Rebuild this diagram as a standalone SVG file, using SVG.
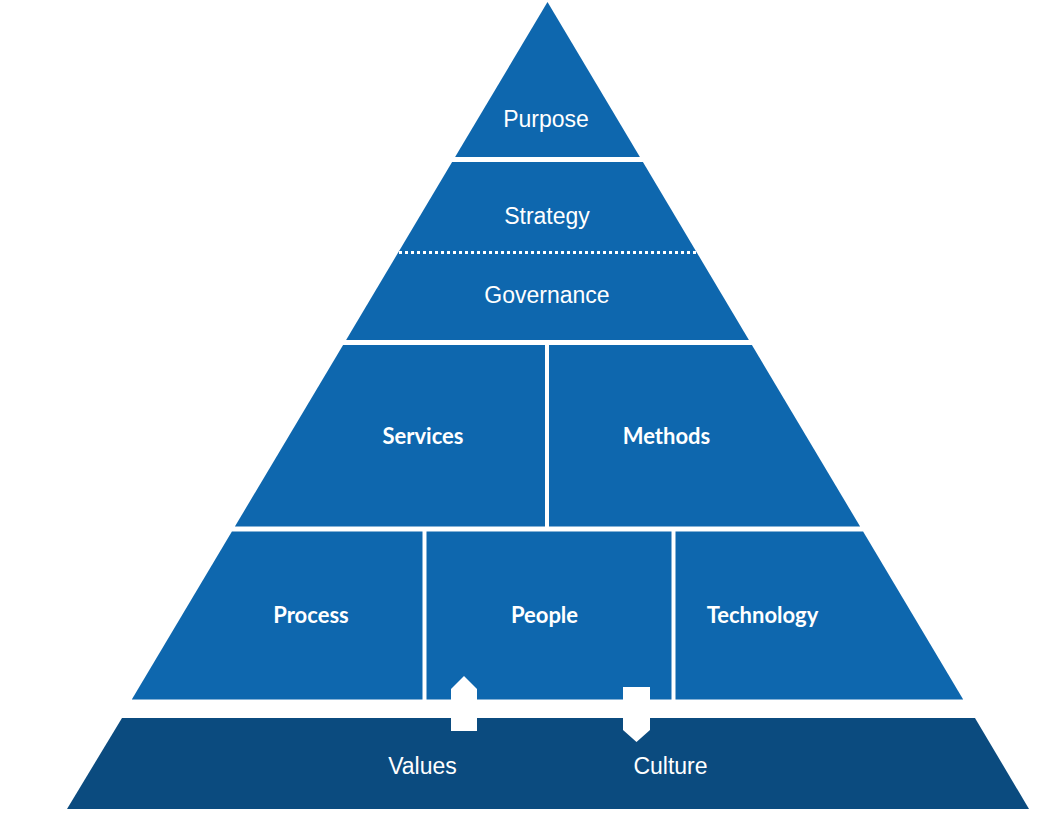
<svg xmlns="http://www.w3.org/2000/svg" width="1061" height="822" viewBox="0 0 1061 822">
<style>
.band{fill:#0e67ae}
.base{fill:#0b4b7f}
.t1{font-family:"Liberation Sans",Arial,sans-serif;font-size:23px;fill:#fff;text-anchor:middle}
.t2{font-family:Lato,"Open Sans",sans-serif;font-weight:bold;font-size:22px;fill:#fff;text-anchor:middle}
.arrow{fill:#fff}
</style>
<rect width="1061" height="822" fill="#fff"/>
<g id="purpose">
<polygon class="band" points="547.5,2 639.9,157 455.1,157"/>
<text class="t1" x="546" y="127">Purpose</text>
</g>
<g id="strategy-governance">
<polygon class="band" points="452.1,162 642.9,162 748.9,340 346.1,340"/>
<line x1="399" y1="252.5" x2="697" y2="252.5" stroke="#fff" stroke-width="3.2" stroke-dasharray="3 3"/>
<text class="t1" x="547" y="224">Strategy</text>
<text class="t1" x="547" y="303">Governance</text>
</g>
<g id="services">
<polygon class="band" points="343.1,345 545,345 545,526.5 234.9,526.5"/>
<text class="t2" x="423" y="444">Services</text>
</g>
<g id="methods">
<polygon class="band" points="549,345 751.9,345 860.1,526.5 549,526.5"/>
<text class="t2" x="666.5" y="444">Methods</text>
</g>
<g id="process">
<polygon class="band" points="231.9,531.5 422.5,531.5 422.5,699.5 131.8,699.5"/>
<text class="t2" x="311" y="623">Process</text>
</g>
<g id="people">
<polygon class="band" points="426.5,531.5 671.5,531.5 671.5,699.5 426.5,699.5"/>
<text class="t2" x="544.5" y="623">People</text>
</g>
<g id="technology">
<polygon class="band" points="675.5,531.5 863.1,531.5 963.2,699.5 675.5,699.5"/>
<text class="t2" x="762.5" y="623">Technology</text>
</g>
<g id="values-culture">
<polygon class="base" points="122,718 975,718 1029,809 67,809"/>
<text class="t1" x="422.5" y="774">Values</text>
<text class="t1" x="670.5" y="774">Culture</text>
</g>
<g id="connectors">
<polygon class="arrow" points="451,731 451,689 464,676 477,689 477,731"/>
<polygon class="arrow" points="623,687 650,687 650,730 636.5,742 623,730"/>
</g>
</svg>
